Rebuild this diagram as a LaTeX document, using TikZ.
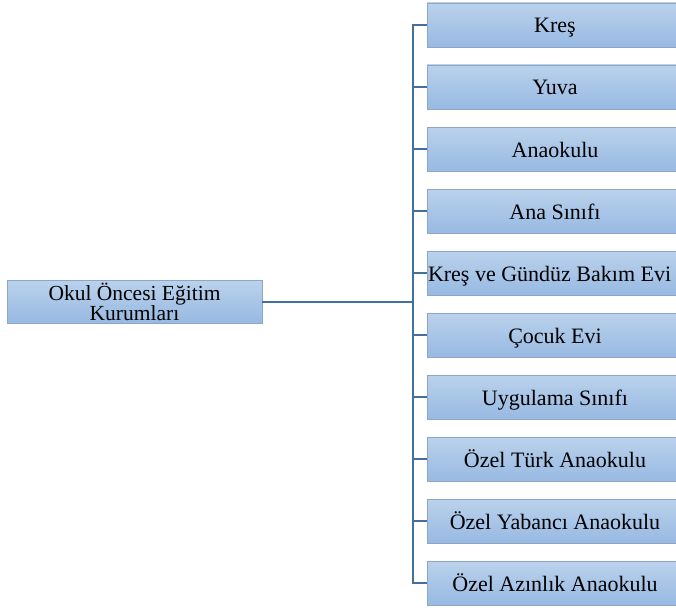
\documentclass[tikz,border=0pt]{standalone}
\usepackage{fontspec}
\setmainfont{Liberation Serif}
\definecolor{boxtop}{HTML}{BAD2EC}
\definecolor{boxbot}{HTML}{98B9E2}
\definecolor{boxline}{HTML}{8CA6C4}
\definecolor{linkc}{HTML}{41719C}
\tikzset{
  base/.style={rectangle, draw=boxline, line width=0.9pt, top color=boxtop, bottom color=boxbot,
    inner sep=0pt, text=black, align=center},
  cat/.style={base, font=\fontsize{22}{20}\selectfont, minimum width=256pt, minimum height=44pt, text height=16pt, text depth=0pt},
  root/.style={base, font=\fontsize{21.5}{20}\selectfont, minimum width=255pt, minimum height=43pt},
  link/.style={draw=linkc, line width=2pt}
}
\begin{document}
\begin{tikzpicture}[x=1pt,y=-1pt]
\useasboundingbox (0,0) rectangle (676,607);
\clip (0,0) rectangle (676,607);
\node[root] (L) at (134.5,301.5) {Okul Öncesi Eğitim\\Kurumları};
\coordinate (J) at (413,301.5);
\node[cat] (b0) at (555,25) {Kreş};
\node[cat] (b1) at (555,87) {Yuva};
\node[cat] (b2) at (555,149) {Anaokulu};
\node[cat] (b3) at (555,211) {Ana Sınıfı};
\node[cat] (b4) at (555,273) {\makebox[254pt][l]{Kreş ve Gündüz Bakım Evi}};
\node[cat] (b5) at (555,335) {Çocuk Evi};
\node[cat] (b6) at (555,397) {Uygulama Sınıfı};
\node[cat] (b7) at (555,459) {Özel Türk Anaokulu};
\node[cat] (b8) at (555,521) {Özel Yabancı Anaokulu};
\node[cat] (b9) at (555,583) {Özel Azınlık Anaokulu};
\draw[link] (L.east) -- (J);
\foreach \k in {0,...,9} {\draw[link] (J) |- (b\k.west);}
\end{tikzpicture}
\end{document}
